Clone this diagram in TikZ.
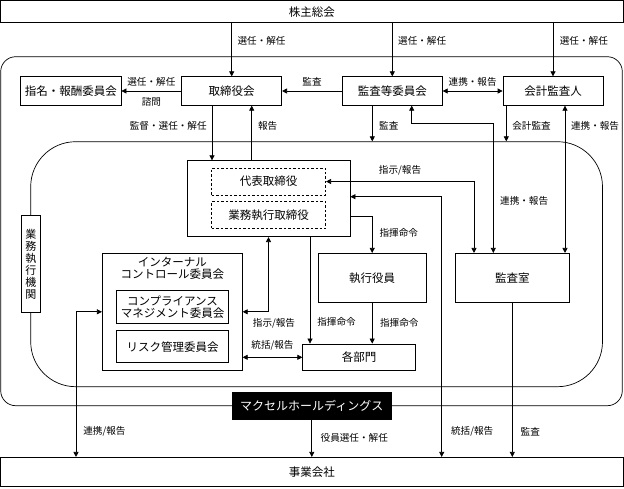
\documentclass[tikz,border=0pt]{standalone}
\usepackage{fontspec}
\setmainfont{Noto Sans CJK JP}
\usetikzlibrary{arrows.meta}

\tikzset{
    box/.style={draw, fill=white, inner sep=0pt, align=center,
        minimum width=100pt, minimum height=28.6pt, font=\fontsize{11.5}{12.6}\selectfont},
    dbox/.style={draw, dash pattern=on 2.5pt off 2pt, inner sep=0pt,
        minimum width=114pt, minimum height=27pt, font=\fontsize{11.5}{12.6}\selectfont},
    frame/.style={draw, inner sep=0pt},
    lbl/.style={inner sep=0pt, font=\fontsize{9.6}{11}\selectfont},
}

\begin{document}
\begin{tikzpicture}[x=1pt, y=-1pt, line width=0.7pt, >={Triangle[length=5pt, width=5pt]}]
        \useasboundingbox (0,0) rectangle (624,488);

        % ---frames
        \node[frame, rounded corners=15pt, minimum width=621.6pt, minimum height=349pt] (hd) at (311.5,231.2) {};
        \node[frame, rounded corners=45pt, minimum width=571.8pt, minimum height=245pt] (gyomu) at (316.6,264.2) {};

        % ---top level
        \node[box, minimum width=622.3pt, minimum height=22pt] (kabu) at (311.8,11.7) {株主総会};
        \node[box, minimum width=100.3pt] (shimei) at (70.9,91) {指名・報酬委員会};
        \node[box] (torishimari) at (231.7,91) {取締役会};
        \node[box] (kansa) at (392.3,91) {監査等委員会};
        \node[box] (kaikei) at (553,91) {会計監査人};

        % ---execution
        \node[box, minimum width=19.7pt, minimum height=97pt, font=\fontsize{11}{12}\selectfont] (kikan) at (30.8,264.2) {業\\務\\執\\行\\機\\関};
        \node[box, minimum width=163pt, minimum height=76pt] (daihyo) at (268.5,198.7) {};
        \node[dbox] (ceo) at (268.7,181.5) {代表取締役};
        \node[dbox] (exdir) at (268.7,215.3) {業務執行取締役};
        \node[box, minimum width=140pt, minimum height=117.5pt] (internal) at (172.3,311.8) {};
        \node[inner sep=0pt, anchor=north, align=center, font=\fontsize{11.5}{12.4}\selectfont] (intitle) at ([yshift=-4pt]internal.north) {インターナル\\コントロール委員会};
        \node[box, minimum width=111.6pt, minimum height=32.6pt] (comp) at (172.5,307) {コンプライアンス\\マネジメント委員会};
        \node[box, minimum width=111.6pt, minimum height=32pt] (risk) at (172.5,346.7) {リスク管理委員会};
        \node[box, minimum width=107.7pt, minimum height=49.4pt] (shikko) at (372.2,278) {執行役員};
        \node[box, minimum width=113pt, minimum height=26.7pt] (bumon) at (359.2,357.3) {各部門};
        \node[box, minimum width=114pt, minimum height=49.4pt] (kansashitsu) at (512.3,278) {監査室};

        % ---group
        \node[box, fill=black, text=white, minimum width=159pt, minimum height=26.3pt, font=\fontsize{12}{13}\selectfont] (maxell) at (311.8,405.8) {マクセルホールディングス};
        \node[box, minimum width=622.3pt, minimum height=29.4pt] (jigyo) at (311.8,472) {事業会社};

        % ---shareholders
        \draw[->] (kabu.south -| torishimari) -- (torishimari.north) node[lbl, right=5.5pt, pos=0.33] {選任・解任};
        \draw[->] (kabu.south -| kansa) -- (kansa.north) node[lbl, right=5.5pt, pos=0.33] {選任・解任};
        \draw[->] (kabu.south -| kaikei) -- (kaikei.north) node[lbl, right=6.5pt, pos=0.33] {選任・解任};

        % ---board row
        \draw[->] (torishimari.west) -- (shimei.east)
            node[lbl, above=4.5pt, midway] {選任・解任} node[lbl, below=6.5pt, midway] {諮問};
        \draw[->] (kansa.west) -- (torishimari.east) node[lbl, above=4.5pt, midway] {監査};
        \draw[<->] (kansa.east) -- (kaikei.west) node[lbl, above=4.5pt, midway] {連携・報告};

        % ---board to execution
        \draw[->] ([xshift=-19.7pt]torishimari.south) -- ([xshift=-19.7pt]torishimari.south |- daihyo.north)
            node[lbl, left=5pt, pos=0.37] {監督・選任・解任};
        \draw[->] ([xshift=-16.8pt]daihyo.north) -- ([xshift=-16.8pt]daihyo.north |- torishimari.south)
            node[lbl, right=6pt, pos=0.63] {報告};
        \draw[->] ([xshift=-20pt]kansa.south) -- ([xshift=-20pt]kansa.south |- gyomu.north)
            node[lbl, right=6.5pt, pos=0.57] {監査};
        \draw[<->] ([xshift=19.4pt]kansa.south) -- ++(0,17.4)
            -| node[lbl, right=6.5pt, pos=0.8] {連携・報告} ([xshift=-19pt]kansashitsu.north);
        \draw[->] ([xshift=-46.7pt]kaikei.south) -- ([xshift=-46.7pt]kaikei.south |- gyomu.north)
            node[lbl, right=5.7pt, pos=0.57] {会計監査};
        \draw[<->] ([xshift=12pt]kaikei.south) -- ([xshift=12pt]kaikei.south |- kansashitsu.north)
            node[lbl, right=5.7pt, pos=0.14] {連携・報告};

        % ---inside execution
        \draw[<->] (ceo.east) -| node[lbl, above=6pt, pos=0.25] {指示/報告} ([xshift=-38.3pt]kansashitsu.north);
        \draw[<->] ([yshift=2pt]daihyo.east) -| node[lbl, right=9pt, pos=0.951] {統括/報告} ([xshift=129.9pt]jigyo.north);
        \draw[->] ([yshift=-18pt]daihyo.east) -| node[lbl, right=7pt, pos=0.727] {指揮命令} (shikko.north);
        \draw[->] ([xshift=41.5pt]daihyo.south) -- ([xshift=41.5pt]daihyo.south |- bumon.north)
            node[lbl, right=7pt, pos=0.8] {指揮命令};
        \draw[->] (shikko.south) -- (shikko.south |- bumon.north) node[lbl, right=7.5pt, midway] {指揮命令};
        \draw[<->] (internal.east) -| node[lbl, below=6pt, pos=0.5, xshift=5.5pt] {指示/報告} (daihyo.south);
        \draw[<->] (internal.east |- bumon.west) -- (bumon.west) node[lbl, above=6.5pt, midway] {統括/報告};

        % ---group companies
        \draw[<->] (internal.west) -| node[lbl, right=7pt, pos=0.912] {連携/報告} ([xshift=-235.8pt]jigyo.north);
        \draw[->] (maxell.south) -- (maxell.south |- jigyo.north) node[lbl, right=8.5pt, midway] {役員選任・解任};
        \draw[->] (kansashitsu.south) -- (kansashitsu.south |- jigyo.north) node[lbl, right=8pt, pos=0.834] {監査};

\end{tikzpicture}
\end{document}
